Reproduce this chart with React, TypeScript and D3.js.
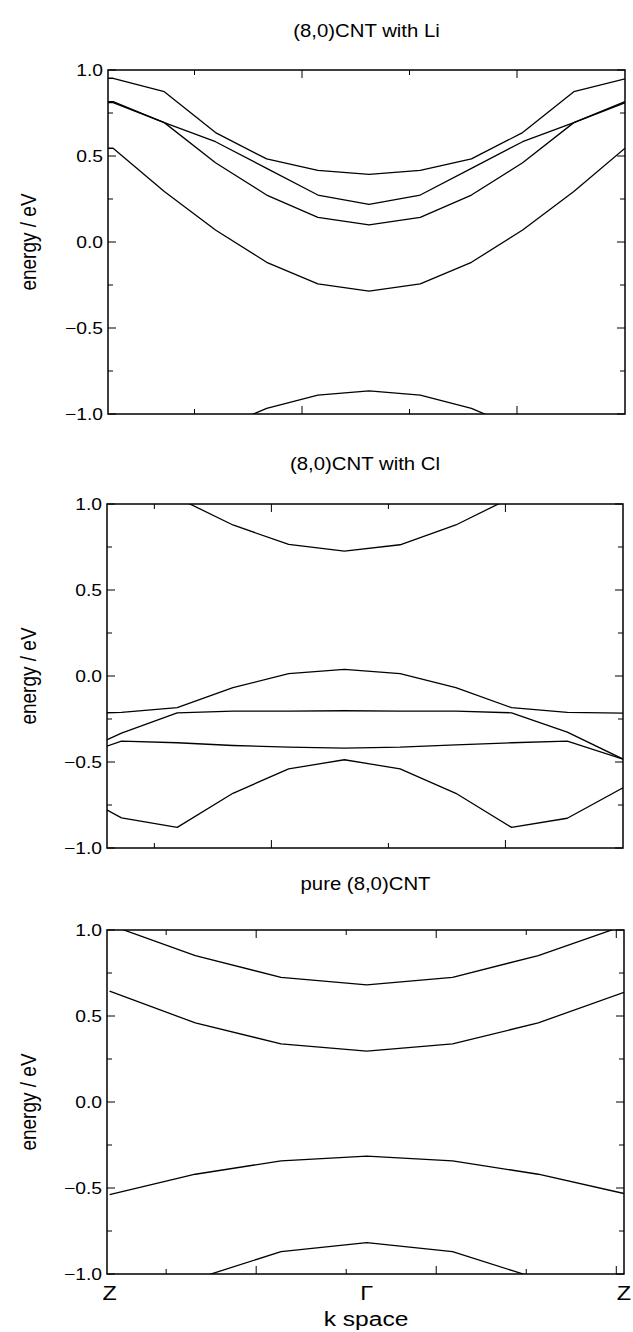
import * as d3 from 'd3';

// k-point index along Z - Γ - Z
const liK = [-0.1, 0, 1, 2, 3, 4, 5, 6, 7, 8, 9, 10];
const clK = [0, 1, 2, 3, 4, 5, 6, 7, 8, 9, 10];
const pureK = [0, 1, 2, 3, 4, 5, 6];

// (8,0)CNT with Li, energy / eV
const liBand1 = [0.952, 0.952, 0.874, 0.636, 0.483, 0.417, 0.393, 0.417, 0.483, 0.636, 0.874, 0.948];
const liBand2 = [0.816, 0.816, 0.694, 0.583, 0.428, 0.273, 0.219, 0.273, 0.428, 0.583, 0.694, 0.816];
const liBand3 = [0.81, 0.81, 0.694, 0.461, 0.273, 0.143, 0.099, 0.143, 0.273, 0.461, 0.694, 0.81];
const liBand4 = [0.545, 0.545, 0.293, 0.07, -0.118, -0.244, -0.285, -0.244, -0.118, 0.07, 0.293, 0.545];
const liBand5 = [-1.5, -1.5, -1.3, -1.095, -0.967, -0.89, -0.866, -0.89, -0.967, -1.095, -1.3, -1.5];

// (8,0)CNT with Cl
const clBand1 = [1.25, 1.15, 1.036, 0.878, 0.765, 0.726, 0.763, 0.878, 1.038, 1.15, 1.25];
const clBand2 = [-0.218, -0.212, -0.184, -0.068, 0.014, 0.039, 0.014, -0.068, -0.184, -0.212, -0.216];
const clBand3 = [-0.48, -0.332, -0.214, -0.204, -0.204, -0.202, -0.204, -0.204, -0.214, -0.326, -0.483];
const clBand4 = [-0.49, -0.379, -0.388, -0.404, -0.414, -0.419, -0.414, -0.4, -0.388, -0.379, -0.483];
const clBand5 = [-0.648, -0.825, -0.88, -0.682, -0.54, -0.487, -0.54, -0.682, -0.88, -0.827, -0.65];

// pure (8,0)CNT
const pureBand1 = [1.03, 0.851, 0.725, 0.681, 0.725, 0.851, 1.025];
const pureBand2 = [0.644, 0.46, 0.338, 0.296, 0.338, 0.46, 0.638];
const pureBand3 = [-0.538, -0.42, -0.342, -0.315, -0.342, -0.42, -0.532];
const pureBand4 = [-1.2, -1.029, -0.87, -0.818, -0.87, -1.028, -1.2];

const titles = ['(8,0)CNT with Li', '(8,0)CNT with Cl', 'pure (8,0)CNT'];
const yMajor = [-1, -0.5, 0, 0.5, 1];
const yMinor = [-0.75, -0.25, 0.25, 0.75];
const liClTicks = [1.59, 3.69, 5.79, 7.89];
const liClMajor = [3.69, 7.89];
const pureTicks = [0.66, 1.71, 2.76, 3.81, 4.86, 5.91];
const pureMajor = [1.71, 3.81, 5.91];
const kLabels = ['Z', 'Γ', 'Z'];
const kLabelPos = [0, 3, 6];

const fmt = d3.format('.1f');
const FONT = 'Liberation Sans, Arial, Helvetica, sans-serif';
// the original figure's lettering is a little wider than it is tall
const SX = 1.17;

const panels = [
  { id: 'li', title: titles[0], k: liK, bands: [liBand1, liBand2, liBand3, liBand4, liBand5],
    xDomain: [-0.1, 10], ticks: liClTicks, major: liClMajor, top: 70, left: 108, right: 625, titleY: 37 },
  { id: 'cl', title: titles[1], k: clK, bands: [clBand1, clBand2, clBand3, clBand4, clBand5],
    xDomain: [0.74, 10], ticks: liClTicks, major: liClMajor, top: 504, left: 107, right: 623, titleY: 470 },
  { id: 'pure', title: titles[2], k: pureK, bands: [pureBand1, pureBand2, pureBand3, pureBand4],
    xDomain: [-0.03, 6], ticks: pureTicks, major: pureMajor, top: 930, left: 107, right: 624, titleY: 890 },
];

const H = 344;

function Label({ x, y, size, anchor = 'middle', dy, children }) {
  return (
    <text transform={`translate(${x},${y}) scale(${SX},1)`} dy={dy} textAnchor={anchor}
      fontSize={size} fontFamily={FONT} fill="#000">
      {children}
    </text>
  );
}

function Panel({ p, last }) {
  const x = d3.scaleLinear().domain(p.xDomain).range([p.left, p.right]);
  const y = d3.scaleLinear().domain([-1, 1]).range([p.top + H, p.top]);
  const line = d3.line<number>().x((_, i) => x(p.k[i])).y(d => y(d));
  const bottom = p.top + H;
  const midX = (p.left + p.right) / 2;

  return (
    <g>
      <defs>
        <clipPath id={`clip-${p.id}`}>
          <rect x={p.left} y={p.top} width={p.right - p.left} height={H} />
        </clipPath>
      </defs>
      <text transform={`translate(${midX},${p.titleY}) scale(1.1,1)`} textAnchor="middle" fontSize={18.5} fontFamily={FONT}>
        {p.title}
      </text>

      <g clipPath={`url(#clip-${p.id})`}>
        {p.bands.map((b, i) => (
          <path key={i} d={line(b)} fill="none" stroke="#000" strokeWidth={1.3} strokeLinejoin="round" />
        ))}
      </g>

      {/* y ticks, inward on both sides */}
      {yMajor.map(v => (
        <g key={`ym${v}`}>
          <line x1={p.left} x2={p.left + 8} y1={y(v)} y2={y(v)} stroke="#000" strokeWidth={1} />
          <line x1={p.right - 8} x2={p.right} y1={y(v)} y2={y(v)} stroke="#000" strokeWidth={1} />
          <Label x={p.left - 5} y={y(v)} dy="0.35em" anchor="end" size={16.5}>{fmt(v)}</Label>
        </g>
      ))}
      {yMinor.map(v => (
        <g key={`yn${v}`}>
          <line x1={p.left} x2={p.left + 5} y1={y(v)} y2={y(v)} stroke="#000" strokeWidth={1} />
          <line x1={p.right - 5} x2={p.right} y1={y(v)} y2={y(v)} stroke="#000" strokeWidth={1} />
        </g>
      ))}

      {/* x ticks, top and bottom */}
      {p.ticks.map(t => {
        const len = p.major.includes(t) ? 8 : 5;
        return (
          <g key={`xt${t}`}>
            <line x1={x(t)} x2={x(t)} y1={p.top} y2={p.top + len} stroke="#000" strokeWidth={1} />
            <line x1={x(t)} x2={x(t)} y1={bottom - len} y2={bottom} stroke="#000" strokeWidth={1} />
          </g>
        );
      })}

      <rect x={p.left} y={p.top} width={p.right - p.left} height={H} fill="none" stroke="#000" strokeWidth={1.5} />

      <text transform={`translate(36,${p.top + H / 2}) rotate(-90) scale(1,1.2)`} textAnchor="middle" fontSize={19} fontFamily={FONT}>
        energy / eV
      </text>

      {last && kLabels.map((l, i) => (
        <Label key={i} x={x(kLabelPos[i])} y={1300} size={20}>{l}</Label>
      ))}
      {last && <Label x={366} y={1326} size={21}>k space</Label>}
    </g>
  );
}

export default function App() {
  return (
    <svg width={633} height={1332} style={{ position: 'absolute', left: 0, top: 0, background: '#fff' }}>
      <rect width={633} height={1332} fill="#fff" />
      {panels.map((p, i) => (
        <Panel key={p.id} p={p} last={i === panels.length - 1} />
      ))}
    </svg>
  );
}
